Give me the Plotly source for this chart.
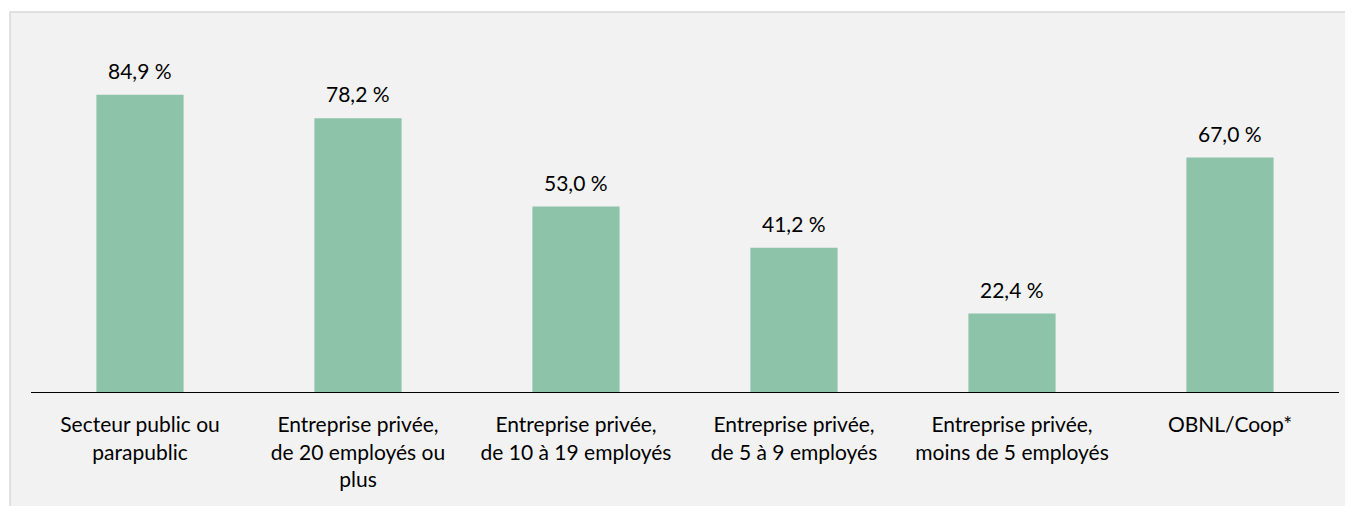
import plotly.graph_objects as go

categories = [
    "Secteur public ou<br>parapublic",
    "Entreprise privée,<br>de 20 employés ou<br>plus",
    "Entreprise privée,<br>de 10 à 19 employés",
    "Entreprise privée,<br>de 5 à 9 employés",
    "Entreprise privée,<br>moins de 5 employés",
    "OBNL/Coop*",
]
values = [84.9, 78.2, 53.0, 41.2, 22.4, 67.0]
labels = ["84,9 %", "78,2 %", "53,0 %", "41,2 %", "22,4 %", "67,0 %"]

# page has an 8px body margin; figure coords = target - 8
W, H = 1345, 498
L, T = 23, 34
plot_right, plot_bottom = 1331, 384
R, B = W - plot_right, H - plot_bottom
pw, ph = plot_right - L, plot_bottom - T

FONT = "Lato, sans-serif"
FS = 21

fig = go.Figure()
fig.add_trace(go.Bar(
    x=categories, y=values, marker_color="#8DC3A9", width=0.4,
    marker_line_width=0, hoverinfo="skip",
))

for c, v, t in zip(categories, values, labels):
    fig.add_annotation(x=c, y=v, text=t, showarrow=False, yanchor="bottom",
                       yshift=10, font=dict(size=FS, color="#000000", family=FONT))

fig.add_shape(type="rect", xref="paper", yref="paper", layer="below",
              x0=(2 - L) / pw, x1=(1343 - L) / pw,
              y0=(plot_bottom - 560) / ph, y1=(plot_bottom - 4) / ph,
              fillcolor="#F2F2F2", line=dict(color="#D9D9D9", width=1.5))

fig.update_layout(
    width=W, height=H,
    margin=dict(l=L, r=R, t=T, b=B),
    paper_bgcolor="#FFFFFF", plot_bgcolor="rgba(0,0,0,0)",
    font=dict(family=FONT, size=FS, color="#000000"),
    showlegend=False, bargap=0.6,
    xaxis=dict(showline=True, linecolor="#000000", linewidth=1.3,
               ticks="", showgrid=False, tickfont=dict(size=FS),
               ticklabelstandoff=14),
    yaxis=dict(range=[0, 100], visible=False, showgrid=False),
)

fig.write_html("out.html")
